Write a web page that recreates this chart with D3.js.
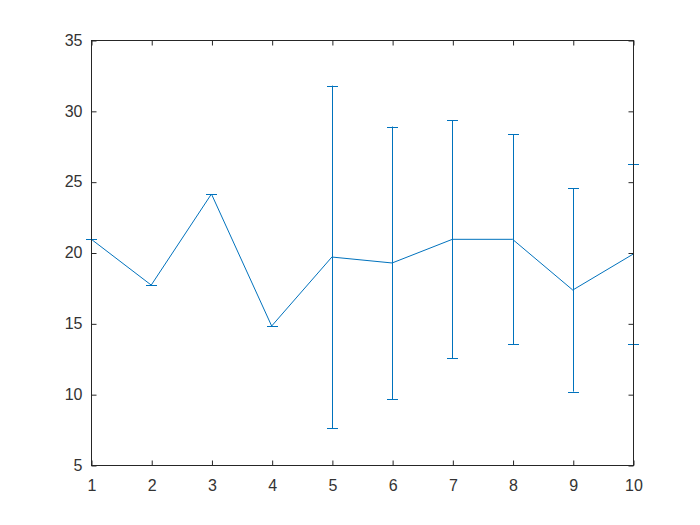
<!DOCTYPE html>
<html><head><meta charset="utf-8">
<script src="https://cdn.jsdelivr.net/npm/d3@7"></script>
<style>body{margin:0;background:#fff}svg{display:block}</style>
</head><body><svg id="c" width="700" height="525"></svg>
<script>
const xs = [1,2,3,4,5,6,7,8,9,10];
const ys = [20.95,17.7,24.13,14.81,19.68,19.26,20.93,20.93,17.35,19.88];
const errs = [0,0,0,0,12.1,9.63,8.4,7.41,7.17,6.34];
const xTicks = [1,2,3,4,5,6,7,8,9,10];
const yTicks = [5,10,15,20,25,30,35];

const svg = d3.select("#c");
const L=91,R=633,T=40,B=465;
const x = d3.scaleLinear().domain([1,10]).range([L,R]);
const y = d3.scaleLinear().domain([5,35]).range([B,T]);
const col = "#0072BD";
const FONT = "'Liberation Sans', Arial, sans-serif";
const FS = "16px";
svg.append("rect").attr("x",0).attr("y",0).attr("width",700).attr("height",525).attr("fill","#fff");

const data = xs.map((d,i)=>({x:d,y:ys[i],e:errs[i]}));
const g = svg.append("g");
g.append("path").datum(data).attr("fill","none").attr("stroke",col).attr("stroke-width",1)
 .attr("d", d3.line().x(d=>x(d.x)).y(d=>y(d.y)));
data.forEach(d=>{
  const cx = Math.round(x(d.x))+0.5;
  g.append("line").attr("x1",cx).attr("x2",cx).attr("y1",y(d.y-d.e)).attr("y2",y(d.y+d.e)).attr("stroke",col).attr("stroke-width",1);
  [d.y-d.e,d.y+d.e].forEach(v=>{
    const yy = Math.round(y(v))+0.5;
    g.append("line").attr("x1",cx-5.5).attr("x2",cx+5.5).attr("y1",yy).attr("y2",yy).attr("stroke",col).attr("stroke-width",1);
  });
});

const ax = svg.append("g").attr("stroke","#262626").attr("stroke-width",1).attr("fill","none");
ax.append("rect").attr("x",L+0.5).attr("y",T+0.5).attr("width",R-L).attr("height",B-T);
const axT = svg.append("g");
const xa = d3.axisBottom(x).tickValues(xTicks).tickSize(-5).tickPadding(14).tickFormat(d3.format("d"));
const xg = axT.append("g").attr("transform",`translate(0.5,${B+0.5})`).call(xa);
const xa2 = d3.axisTop(x).tickValues(xTicks).tickSize(-5).tickFormat("");
const xg2 = axT.append("g").attr("transform",`translate(0.5,${T+0.5})`).call(xa2);
const ya = d3.axisLeft(y).tickValues(yTicks).tickSize(-5).tickPadding(9).tickFormat(d3.format("d"));
const yg = axT.append("g").attr("transform",`translate(${L+0.5},0.5)`).call(ya);
const ya2 = d3.axisRight(y).tickValues(yTicks).tickSize(-5).tickFormat("");
const yg2 = axT.append("g").attr("transform",`translate(${R+0.5},0.5)`).call(ya2);
[xg,xg2,yg,yg2].forEach(s=>{
  s.attr("font-size",FS).attr("font-family",FONT);
  s.select(".domain").remove();
  s.selectAll("line").attr("stroke","#262626");
  s.selectAll("text").attr("fill","#333").attr("font-size",FS).attr("font-family",FONT);
});
yg.selectAll("text").attr("dy","0.3em");
</script></body></html>
